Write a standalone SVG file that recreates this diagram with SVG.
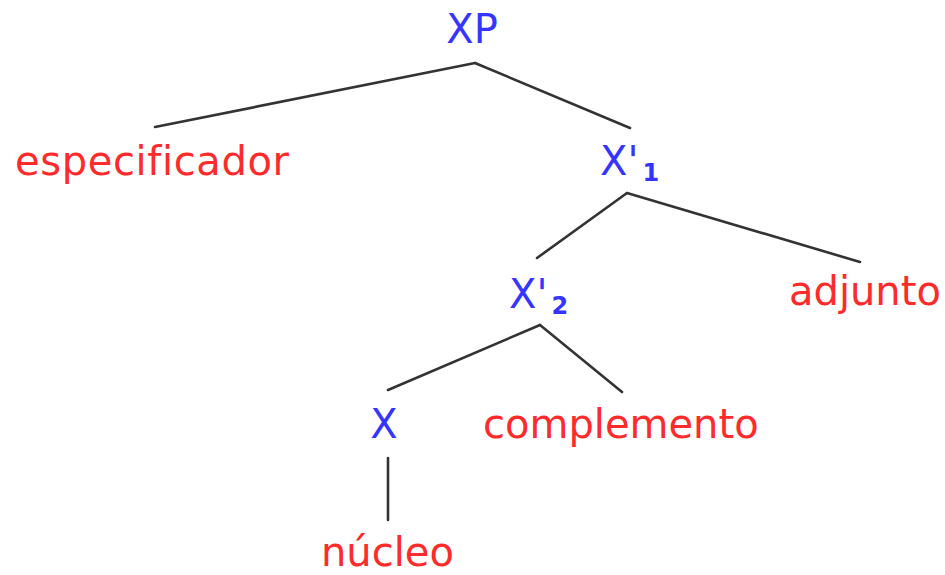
<svg xmlns="http://www.w3.org/2000/svg" width="945" height="575" viewBox="0 0 945 575">
<style>
text{font-family:"DejaVu Sans",sans-serif;font-size:40px;font-variant-ligatures:none}
.c{fill:#3535ff}
.t{fill:#ff2a2a}
.sub{font-size:24px;font-weight:bold}
#edges line{stroke:#333;stroke-width:2.6;stroke-linecap:round}
</style>
<rect width="945" height="575" fill="#fff"/>
<g id="edges">
<line x1="475" y1="63" x2="155" y2="127"/>
<line x1="475" y1="63" x2="630" y2="128"/>
<line x1="627" y1="193" x2="537" y2="258"/>
<line x1="627" y1="193" x2="860" y2="262"/>
<line x1="540" y1="325" x2="388" y2="390"/>
<line x1="540" y1="325" x2="622" y2="392"/>
<line x1="388" y1="458" x2="388" y2="520"/>
</g>
<g id="XP"><text class="c" x="472" y="43" text-anchor="middle">XP</text></g>
<g id="especificador"><text class="t" x="15" y="175" textLength="274" lengthAdjust="spacing">especificador</text></g>
<g id="X1"><text class="c" x="600" y="175">X'<tspan class="sub" dx="4" dy="6">1</tspan></text></g>
<g id="X2"><text class="c" x="509" y="308">X'<tspan class="sub" dx="4" dy="6">2</tspan></text></g>
<g id="adjunto"><text class="t" x="789" y="305">adjunto</text></g>
<g id="X"><text class="c" x="384" y="438" text-anchor="middle">X</text></g>
<g id="complemento"><text class="t" x="483" y="438">complemento</text></g>
<g id="nucleo"><text class="t" x="321" y="566">núcleo</text></g>
</svg>
